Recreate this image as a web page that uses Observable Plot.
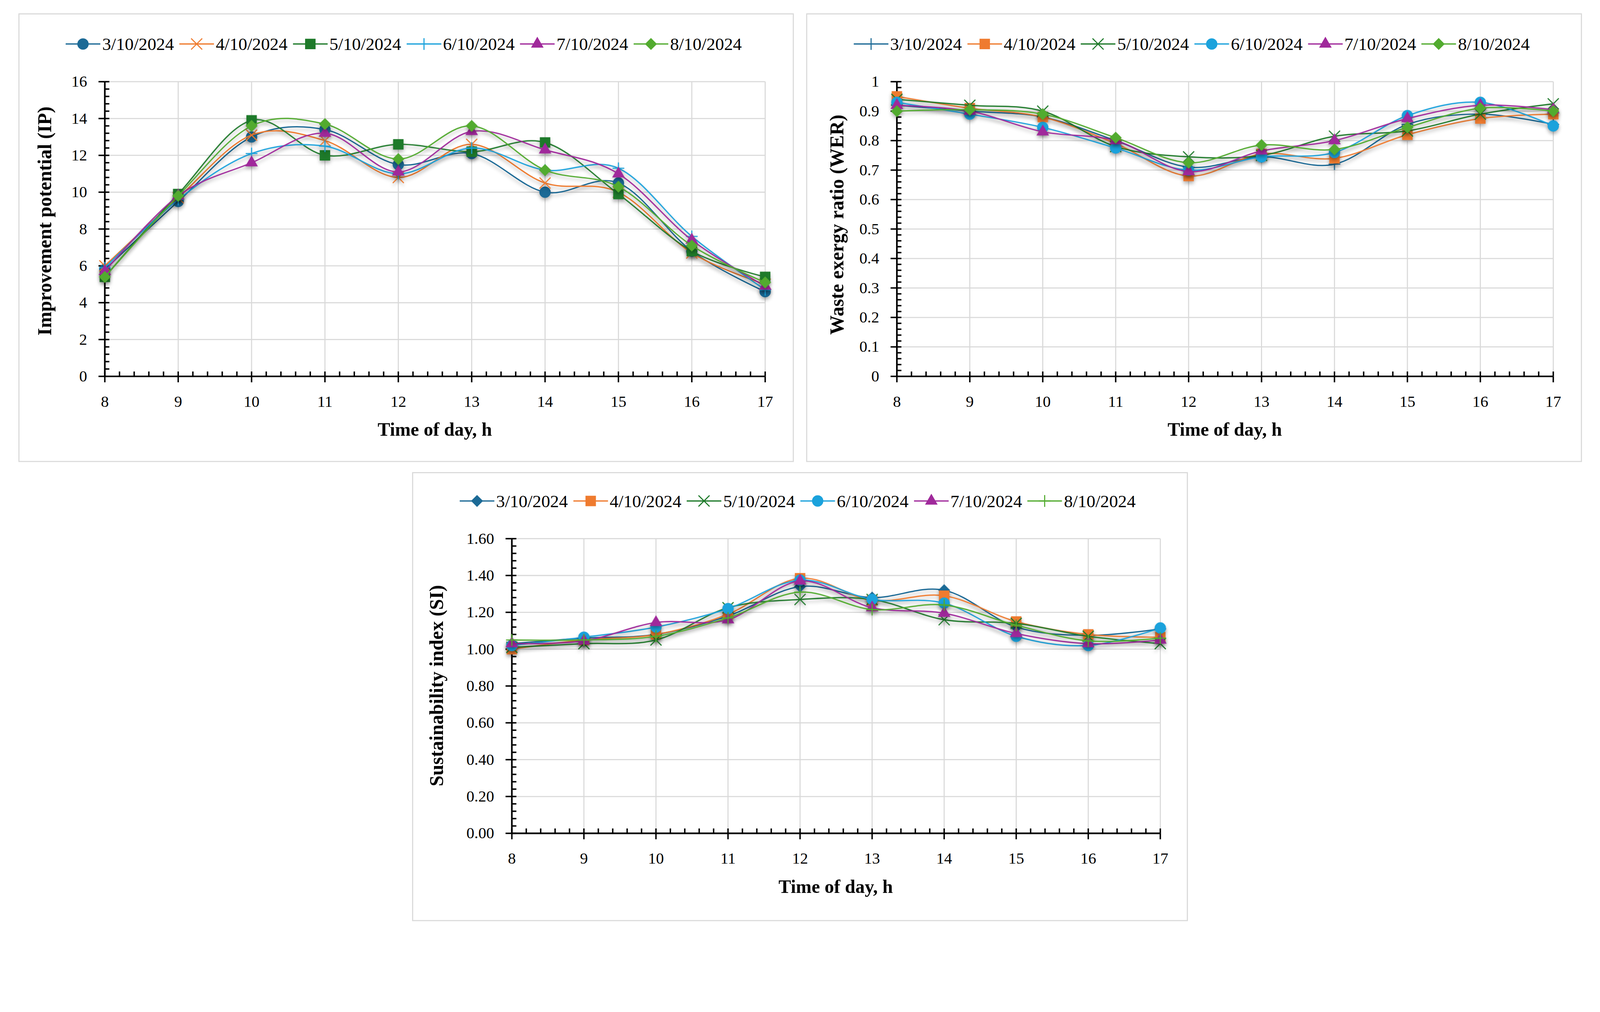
<!DOCTYPE html>
<html>
<head>
<meta charset="utf-8">
<script src="https://cdn.jsdelivr.net/npm/d3@7"></script>
<script src="https://cdn.jsdelivr.net/npm/@observablehq/plot@0.6"></script>
<style>
html,body{margin:0;padding:0;background:#fff;overflow:hidden;}
body{font-family:"Liberation Serif","DejaVu Serif",serif;color:#000;}
#page{position:absolute;left:0;top:0;width:4434px;height:2592px;transform-origin:0 0;background:#fff;}
.panel{position:absolute;border:3px solid #d9d9d9;box-sizing:border-box;background:#fff;}
.legend{position:absolute;display:flex;justify-content:center;align-items:center;font-size:49px;height:60px;white-space:nowrap;}
.item{display:flex;align-items:center;margin-right:14px;}
.item svg{margin-right:4px;overflow:visible;}
.ytitle{position:absolute;font-weight:bold;font-size:54px;transform:translate(-50%,-50%) rotate(-90deg);white-space:nowrap;}
.xtitle{position:absolute;font-weight:bold;font-size:52px;transform:translate(-50%,-50%);white-space:nowrap;}
.chart{position:absolute;}
.chart svg{overflow:visible;}
.chart g[aria-label="line"], .chart g[aria-label="dot"]{filter:drop-shadow(0px 7px 5px rgba(0,0,0,0.28));}
</style>
</head>
<body>
<div id="page"></div>
<script>
// ---------------- data ----------------
const hours = [8, 9, 10, 11, 12, 13, 14, 15, 16, 17];
const dates = ["3/10/2024", "4/10/2024", "5/10/2024", "6/10/2024", "7/10/2024", "8/10/2024"];

// Improvement potential (IP)
const ip_0310 = [5.8, 9.5, 13.0, 13.4, 11.5, 12.1, 10.0, 10.5, 6.8, 4.6];
const ip_0410 = [6.0, 9.7, 13.1, 12.8, 10.8, 12.6, 10.5, 10.0, 6.7, 5.0];
const ip_0510 = [5.4, 9.9, 13.9, 12.0, 12.6, 12.2, 12.7, 9.9, 6.8, 5.4];
const ip_0610 = [5.9, 9.6, 12.1, 12.5, 11.0, 12.4, 11.2, 11.3, 7.6, 4.7];
const ip_0710 = [5.7, 9.8, 11.6, 13.2, 11.1, 13.3, 12.3, 11.0, 7.4, 4.9];
const ip_0810 = [5.4, 9.8, 13.6, 13.7, 11.8, 13.6, 11.2, 10.3, 7.1, 5.1];

// Waste exergy ratio (WER)
const wer_0310 = [0.92, 0.90, 0.88, 0.80, 0.71, 0.745, 0.72, 0.855, 0.89, 0.855];
const wer_0410 = [0.95, 0.91, 0.88, 0.79, 0.68, 0.755, 0.74, 0.82, 0.875, 0.89];
const wer_0510 = [0.94, 0.92, 0.90, 0.78, 0.745, 0.75, 0.815, 0.833, 0.89, 0.925];
const wer_0610 = [0.93, 0.89, 0.845, 0.775, 0.70, 0.745, 0.76, 0.885, 0.93, 0.85];
const wer_0710 = [0.92, 0.90, 0.83, 0.80, 0.695, 0.765, 0.80, 0.875, 0.92, 0.905];
const wer_0810 = [0.90, 0.905, 0.89, 0.81, 0.725, 0.785, 0.77, 0.845, 0.91, 0.90];

// Sustainability index (SI)
const si_0310 = [1.03, 1.06, 1.08, 1.18, 1.34, 1.28, 1.32, 1.12, 1.075, 1.11];
const si_0410 = [1.00, 1.05, 1.08, 1.19, 1.385, 1.265, 1.29, 1.15, 1.08, 1.065];
const si_0510 = [1.01, 1.03, 1.05, 1.225, 1.27, 1.27, 1.16, 1.14, 1.07, 1.03];
const si_0610 = [1.02, 1.065, 1.12, 1.22, 1.375, 1.27, 1.25, 1.07, 1.02, 1.115];
const si_0710 = [1.03, 1.045, 1.145, 1.16, 1.37, 1.225, 1.195, 1.085, 1.03, 1.05];
const si_0810 = [1.05, 1.05, 1.07, 1.17, 1.31, 1.215, 1.24, 1.13, 1.045, 1.06];

// axis ticks
const ipTicks = [0, 2, 4, 6, 8, 10, 12, 14, 16];
const werTicks = [0, 0.1, 0.2, 0.3, 0.4, 0.5, 0.6, 0.7, 0.8, 0.9, 1];
const siTicks = [0, 0.2, 0.4, 0.6, 0.8, 1.0, 1.2, 1.4, 1.6];

// ---------------- styles ----------------
const colors = ["#1c6a96", "#ef7b2f", "#1e7a2a", "#1ba2dc", "#a0299b", "#52ab2f"];
const symbolSpec = {
  circle:   {d3: d3.symbolCircle,   r: 15,   filled: true},
  square:   {d3: d3.symbolSquare,   r: 15.5, filled: true},
  diamond2: {d3: d3.symbolDiamond2, r: 14,   filled: true},
  triangle: {d3: d3.symbolTriangle, r: 12,   filled: true},
  times:    {d3: d3.symbolTimes,    r: 14,   filled: false},
  plus:     {d3: d3.symbolPlus,     r: 10.5, filled: false}
};

const page = document.getElementById("page");
function fitPage() {
  const vw = document.documentElement.clientWidth || window.innerWidth;
  const s = Math.min(1, vw / 4434);
  page.style.transform = s < 1 ? `scale(${s})` : "none";
}
fitPage();
window.addEventListener("resize", fitPage);

function el(tag, cls, parent) {
  const e = document.createElement(tag);
  if (cls) e.className = cls;
  (parent || page).appendChild(e);
  return e;
}

function buildPanel(cfg) {
  const b = cfg.box;
  const box = el("div", "panel");
  Object.assign(box.style, {left: b.left + "px", top: b.top + "px", width: b.w + "px", height: b.h + "px"});

  // legend
  const leg = el("div", "legend");
  Object.assign(leg.style, {left: b.left + "px", width: b.w + "px", top: (cfg.legendY - 30) + "px"});
  dates.forEach((d, i) => {
    const it = el("div", "item", leg);
    const spec = symbolSpec[cfg.symbols[i]];
    const s = d3.create("svg").attr("width", 98).attr("height", 44);
    s.append("line").attr("x1", 1).attr("x2", 97).attr("y1", 22).attr("y2", 22)
      .attr("stroke", colors[i]).attr("stroke-width", 3.5);
    s.append("path").attr("transform", "translate(49,22)")
      .attr("d", d3.symbol(spec.d3, Math.PI * spec.r * spec.r)())
      .attr("fill", spec.filled ? colors[i] : "none")
      .attr("stroke", colors[i]).attr("stroke-width", spec.filled ? 1.5 : 3);
    it.appendChild(s.node());
    const t = el("span", "", it);
    t.textContent = d;
  });

  // plot
  const yt = cfg.yTicks;
  const yMin = yt[0], yMax = yt[yt.length - 1];
  const ystep = yt[1] - yt[0];
  const yMinor = d3.range(0, (yt.length - 1) * 5 + 1).map(k => yMin + k * ystep / 5);
  const xMinor = d3.range(0, (hours.length - 1) * 5 + 1).map(k => hours[0] + k * 0.2);

  const marks = [
    Plot.ruleX(hours, {x: d => d, stroke: "#d9d9d9", strokeWidth: 3}),
    Plot.ruleY(yt, {y: d => d, stroke: "#d9d9d9", strokeWidth: 3}),
    Plot.ruleY([yMin], {stroke: "#000", strokeWidth: 4.5}),
    Plot.ruleX([hours[0]], {stroke: "#000", strokeWidth: 4.5}),
    Plot.axisX({ticks: xMinor, tickSize: -13, tickFormat: () => "", strokeWidth: 4, label: null}),
    Plot.axisX({ticks: hours, tickSize: 17, tickPadding: 36, tickFormat: d => String(d), strokeWidth: 4, fontSize: 44, label: null}),
    Plot.axisY({ticks: yMinor, tickSize: -13, tickFormat: () => "", strokeWidth: 4, label: null}),
    Plot.axisY({ticks: yt, tickSize: 17, tickPadding: 32, tickFormat: cfg.yFmt, strokeWidth: 4, fontSize: 44, label: null})
  ];

  cfg.series.forEach((vals, i) => {
    const rows = hours.map((h, j) => ({hour: h, value: vals[j], date: dates[i]}));
    const spec = symbolSpec[cfg.symbols[i]];
    marks.push(Plot.line(rows, {x: "hour", y: "value", stroke: colors[i], strokeWidth: 3.5, curve: "cardinal"}));
    marks.push(Plot.dot(rows, {
      x: "hour", y: "value", symbol: cfg.symbols[i], r: spec.r,
      fill: spec.filled ? colors[i] : "none", stroke: colors[i], strokeWidth: spec.filled ? 1.5 : 3
    }));
  });

  const chart = Plot.plot({
    width: b.w,
    height: cfg.svgH,
    marginLeft: cfg.m[0], marginRight: cfg.m[1], marginTop: cfg.m[2], marginBottom: cfg.m[3],
    style: {fontFamily: "Liberation Serif, DejaVu Serif, serif", fontSize: "44px", color: "#000", background: "transparent", overflow: "visible"},
    x: {domain: [hours[0], hours[hours.length - 1]]},
    y: {domain: [yMin, yMax]},
    marks
  });
  const holder = el("div", "chart");
  Object.assign(holder.style, {left: b.left + "px", top: cfg.svgTop + "px"});
  holder.appendChild(chart);

  const ytl = el("div", "ytitle");
  ytl.textContent = cfg.ytitle;
  Object.assign(ytl.style, {left: cfg.ytitlePos[0] + "px", top: cfg.ytitlePos[1] + "px"});
  const xtl = el("div", "xtitle");
  xtl.textContent = "Time of day, h";
  Object.assign(xtl.style, {left: cfg.xtitlePos[0] + "px", top: cfg.xtitlePos[1] + "px"});
}

buildPanel({
  box: {left: 51, top: 37, w: 2149, h: 1244},
  svgTop: 160, svgH: 1120, m: [239, 80, 66, 237],
  yTicks: ipTicks, yFmt: d => String(d),
  series: [ip_0310, ip_0410, ip_0510, ip_0610, ip_0710, ip_0810],
  symbols: ["circle", "times", "square", "plus", "triangle", "diamond2"],
  ytitle: "Improvement potential (IP)", ytitlePos: [124, 613], xtitlePos: [1205, 1191],
  legendY: 122
});

buildPanel({
  box: {left: 2234, top: 37, w: 2150, h: 1244},
  svgTop: 160, svgH: 1120, m: [251, 80, 66, 237],
  yTicks: werTicks, yFmt: d => String(d),
  series: [wer_0310, wer_0410, wer_0510, wer_0610, wer_0710, wer_0810],
  symbols: ["plus", "square", "times", "circle", "triangle", "diamond2"],
  ytitle: "Waste exergy ratio (WER)", ytitlePos: [2319, 623], xtitlePos: [3394, 1191],
  legendY: 122
});

buildPanel({
  box: {left: 1142, top: 1309, w: 2150, h: 1245},
  svgTop: 1420, svgH: 1130, m: [276, 77, 73, 240],
  yTicks: siTicks, yFmt: d => d.toFixed(2),
  series: [si_0310, si_0410, si_0510, si_0610, si_0710, si_0810],
  symbols: ["diamond2", "square", "times", "circle", "triangle", "plus"],
  ytitle: "Sustainability index (SI)", ytitlePos: [1210, 1901], xtitlePos: [2316, 2458],
  legendY: 1389
});
</script>
</body>
</html>
